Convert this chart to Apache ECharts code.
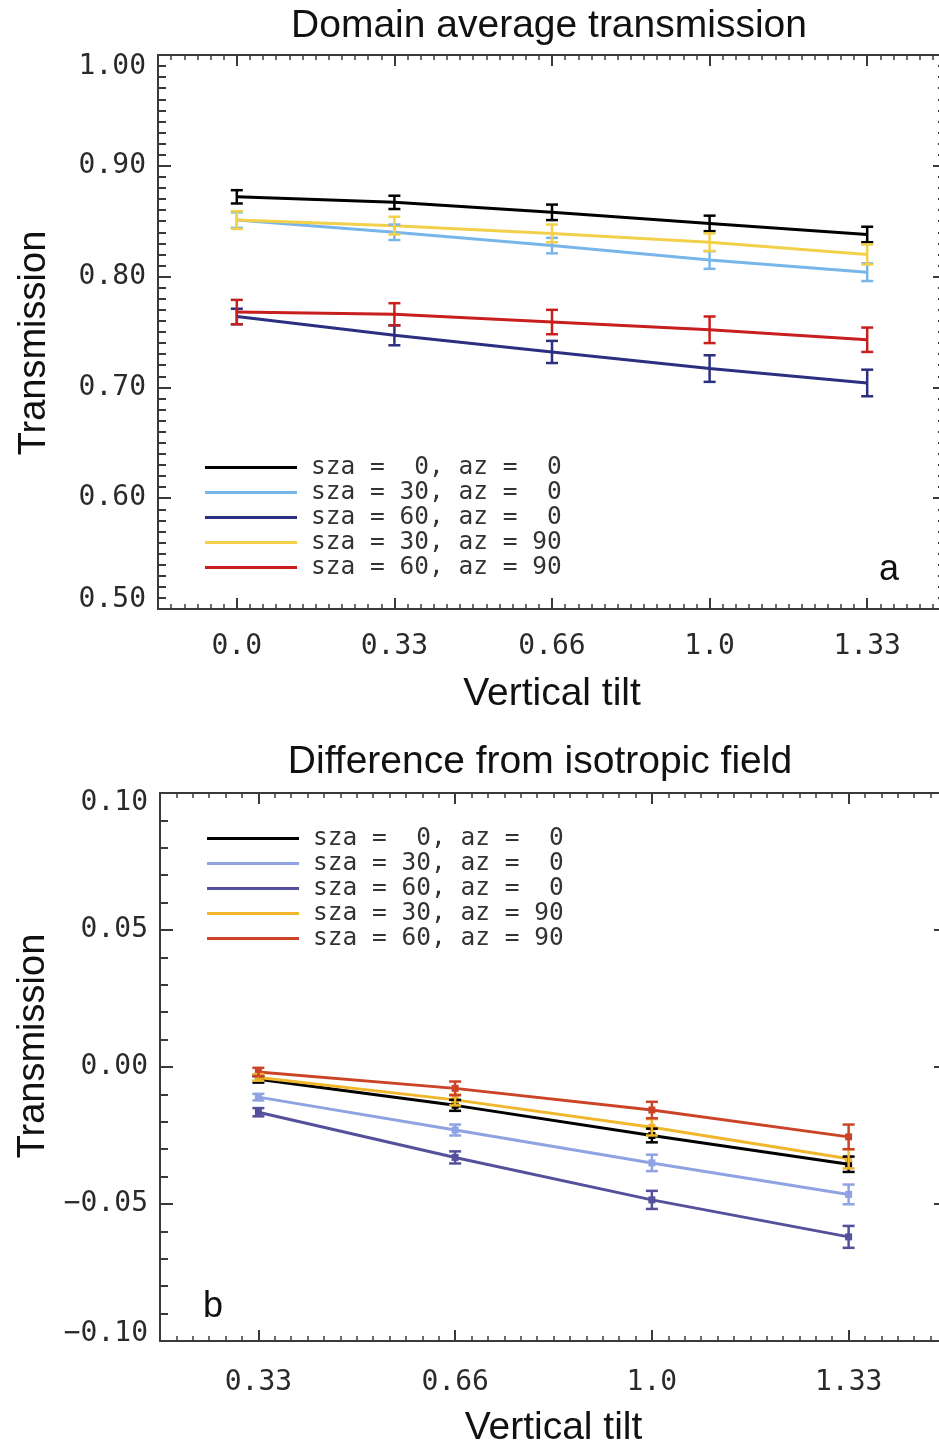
<!DOCTYPE html>
<html>
<head>
<meta charset="utf-8">
<script src="https://cdn.jsdelivr.net/npm/echarts@6/dist/echarts.min.js"></script>
<style>
html,body{margin:0;padding:0;background:#fff;}
#main{width:939px;height:1445px;}
</style>
</head>
<body>
<div id="main"></div>
<script>
// ---------- Data ----------
var seriesNames = ['sza =  0, az =  0', 'sza = 30, az =  0', 'sza = 60, az =  0', 'sza = 30, az = 90', 'sza = 60, az = 90'];

// Panel a: domain average transmission
var tiltLabelsA = ['0.0', '0.33', '0.66', '1.0', '1.33'];
var transA_s0a0   = [0.872, 0.867, 0.858, 0.848, 0.838];
var transA_s30a0  = [0.851, 0.840, 0.828, 0.815, 0.804];
var transA_s60a0  = [0.764, 0.747, 0.732, 0.717, 0.704];
var transA_s30a90 = [0.851, 0.846, 0.839, 0.831, 0.820];
var transA_s60a90 = [0.768, 0.766, 0.759, 0.752, 0.743];
var errA_s0a0   = [0.006, 0.006, 0.007, 0.007, 0.007];
var errA_s30a0  = [0.007, 0.007, 0.007, 0.008, 0.008];
var errA_s60a0  = [0.007, 0.009, 0.010, 0.012, 0.012];
var errA_s30a90 = [0.008, 0.008, 0.008, 0.008, 0.009];
var errA_s60a90 = [0.011, 0.010, 0.011, 0.012, 0.011];

// Panel b: difference from isotropic field
var tiltLabelsB = ['0.33', '0.66', '1.0', '1.33'];
var diffB_s0a0   = [-0.0045, -0.0140, -0.0250, -0.0355];
var diffB_s30a0  = [-0.0110, -0.0230, -0.0350, -0.0465];
var diffB_s60a0  = [-0.0165, -0.0330, -0.0485, -0.0620];
var diffB_s30a90 = [-0.0038, -0.0120, -0.0220, -0.0335];
var diffB_s60a90 = [-0.0018, -0.0078, -0.0157, -0.0255];
var errB_s0a0   = [0.0012, 0.0020, 0.0025, 0.0028];
var errB_s30a0  = [0.0012, 0.0020, 0.0030, 0.0036];
var errB_s60a0  = [0.0015, 0.0022, 0.0033, 0.0040];
var errB_s30a90 = [0.0012, 0.0020, 0.0030, 0.0035];
var errB_s60a90 = [0.0015, 0.0025, 0.0030, 0.0045];

// ---------- Styling ----------
var colorsA = ['#000000', '#78b6ea', '#2c2f80', '#f2d04a', '#c81e1e'];
var colorsB = ['#000000', '#8fa2e2', '#54509c', '#f0b62c', '#cc4428'];
var axisColor = '#3a3a3a';
var labelColor = '#2a2a2a';
var monoFont = '"DejaVu Sans Mono", monospace';
var sansFont = '"Liberation Sans", Arial, Helvetica, sans-serif';

var chart = echarts.init(document.getElementById('main'), null, {renderer: 'canvas'});

function errBarRender(color) {
  return function (params, api) {
    var x = api.value(0);
    var lo = api.coord([x, api.value(1)]);
    var hi = api.coord([x, api.value(2)]);
    var cap = 6;
    var st = {stroke: color, lineWidth: 2.5};
    return {
      type: 'group',
      children: [
        {type: 'line', shape: {x1: lo[0], y1: lo[1], x2: hi[0], y2: hi[1]}, style: st},
        {type: 'line', shape: {x1: lo[0] - cap, y1: lo[1], x2: lo[0] + cap, y2: lo[1]}, style: st},
        {type: 'line', shape: {x1: hi[0] - cap, y1: hi[1], x2: hi[0] + cap, y2: hi[1]}, style: st}
      ]
    };
  };
}

function errData(vals, errs) {
  return vals.map(function (v, i) { return [i, v - errs[i], v + errs[i]]; });
}

function yFmtFactory(min, max) {
  return function (v) {
    var s;
    if (Math.abs(v) < 1e-9) s = '0.00';
    else s = (v < 0 ? '\u2212' : '') + Math.abs(v).toFixed(2);
    if (Math.abs(v - max) < 1e-9) return '{dn|' + s + '}';
    if (Math.abs(v - min) < 1e-9) return '{up|' + s + '}';
    return s;
  };
}

function xAxesFor(gridIndex, cats, maxIdx, labelMargin, nameGap) {
  return [
    {type: 'category', gridIndex: gridIndex, data: cats, position: 'bottom', boundaryGap: true,
     axisLine: {show: true, onZero: false, lineStyle: {color: axisColor, width: 2}},
     axisTick: {show: true, inside: true, alignWithLabel: true, length: 11, lineStyle: {color: axisColor, width: 2}},
     axisLabel: {show: true, margin: labelMargin, color: labelColor, fontFamily: monoFont, fontSize: 28},
     splitLine: {show: false},
     name: 'Vertical tilt', nameLocation: 'middle', nameGap: nameGap,
     nameTextStyle: {fontFamily: sansFont, fontSize: 39, color: '#111'}},
    {type: 'value', gridIndex: gridIndex, position: 'bottom', min: -0.5, max: maxIdx, interval: 1 / 12,
     axisLine: {show: false, onZero: false}, axisLabel: {show: false}, splitLine: {show: false},
     axisTick: {show: true, inside: true, length: 5, lineStyle: {color: axisColor, width: 1.5}}},
    {type: 'category', gridIndex: gridIndex, data: cats, position: 'top', boundaryGap: true,
     axisLine: {show: true, onZero: false, lineStyle: {color: axisColor, width: 2}},
     axisTick: {show: true, inside: true, alignWithLabel: true, length: 11, lineStyle: {color: axisColor, width: 2}},
     axisLabel: {show: false}, splitLine: {show: false}},
    {type: 'value', gridIndex: gridIndex, position: 'top', min: -0.5, max: maxIdx, interval: 1 / 12,
     axisLine: {show: false, onZero: false}, axisLabel: {show: false}, splitLine: {show: false},
     axisTick: {show: true, inside: true, length: 5, lineStyle: {color: axisColor, width: 1.5}}}
  ];
}

function yAxesFor(gridIndex, min, max, interval, minorSplit, namePadding, dnPad, upPad) {
  return [
    {type: 'value', gridIndex: gridIndex, position: 'left', min: min, max: max, interval: interval,
     axisLine: {show: true, onZero: false, lineStyle: {color: axisColor, width: 2}},
     axisTick: {show: true, inside: true, length: 13, lineStyle: {color: axisColor, width: 2}},
     minorTick: {show: true, splitNumber: minorSplit, length: 8, lineStyle: {color: axisColor, width: 2}},
     axisLabel: {show: true, margin: 12, color: labelColor, fontFamily: monoFont, fontSize: 28,
       formatter: yFmtFactory(min, max),
       rich: {
         dn: {fontFamily: monoFont, fontSize: 28, color: labelColor, padding: [dnPad, 0, 0, 0]},
         up: {fontFamily: monoFont, fontSize: 28, color: labelColor, padding: [0, 0, upPad, 0]}
       }},
     splitLine: {show: false}, minorSplitLine: {show: false},
     name: 'Transmission', nameLocation: 'middle', nameRotate: 90, nameGap: 104,
     nameTextStyle: {fontFamily: sansFont, fontSize: 38, color: '#111', padding: namePadding}},
    {type: 'value', gridIndex: gridIndex, position: 'right', min: min, max: max, interval: interval,
     axisLine: {show: true, onZero: false, lineStyle: {color: axisColor, width: 2}},
     axisTick: {show: true, inside: true, length: 13, lineStyle: {color: axisColor, width: 2}},
     minorTick: {show: true, splitNumber: minorSplit, length: 8, lineStyle: {color: axisColor, width: 2}},
     axisLabel: {show: false}, splitLine: {show: false}, minorSplitLine: {show: false}}
  ];
}

var xAxes = xAxesFor(0, tiltLabelsA, 4.5, 24, 66).concat(xAxesFor(1, tiltLabelsB, 3.5, 28, 68));
var yAxes = yAxesFor(0, 0.5, 1.0, 0.1, 10, [0, 22, 0, 0], 24, 18)
  .concat(yAxesFor(1, -0.1, 0.1, 0.05, 5, [0, 0, 0, 42], 20, 14));

var valsA = [transA_s0a0, transA_s30a0, transA_s60a0, transA_s30a90, transA_s60a90];
var errsA = [errA_s0a0, errA_s30a0, errA_s60a0, errA_s30a90, errA_s60a90];
var valsB = [diffB_s0a0, diffB_s30a0, diffB_s60a0, diffB_s30a90, diffB_s60a90];
var errsB = [errB_s0a0, errB_s30a0, errB_s60a0, errB_s30a90, errB_s60a90];

var series = [];
seriesNames.forEach(function (nm, k) {
  series.push({type: 'line', name: nm, xAxisIndex: 0, yAxisIndex: 0, data: valsA[k],
    symbol: 'none', lineStyle: {color: colorsA[k], width: 3}, itemStyle: {color: colorsA[k]},
    silent: true, animation: false, z: 3});
  series.push({type: 'custom', name: 'errA' + k, xAxisIndex: 0, yAxisIndex: 0,
    data: errData(valsA[k], errsA[k]), encode: {x: 0, y: [1, 2]},
    renderItem: errBarRender(colorsA[k]), silent: true, animation: false, z: 4});
});
seriesNames.forEach(function (nm, k) {
  series.push({type: 'line', name: nm + ' ', xAxisIndex: 4, yAxisIndex: 2, data: valsB[k],
    symbol: 'rect', symbolSize: 7, lineStyle: {color: colorsB[k], width: 3}, itemStyle: {color: colorsB[k]},
    silent: true, animation: false, z: 3});
  series.push({type: 'custom', name: 'errB' + k, xAxisIndex: 4, yAxisIndex: 2,
    data: errData(valsB[k], errsB[k]), encode: {x: 0, y: [1, 2]},
    renderItem: errBarRender(colorsB[k]), silent: true, animation: false, z: 4});
});

function legendFor(names, colors, left, top, lh) {
  return {
    orient: 'vertical', left: left, top: top, itemGap: 0, padding: 0, selectedMode: false,
    itemWidth: 92, itemHeight: 3, icon: 'rect',
    data: names.map(function (n, i) { return {name: n, itemStyle: {color: colors[i]}}; }),
    textStyle: {fontFamily: monoFont, fontSize: 24.5, color: '#333', lineHeight: lh, padding: [0, 0, 0, 9]}
  };
}

var option = {
  backgroundColor: '#ffffff',
  animation: false,
  title: [
    {text: 'Domain average transmission', left: 544, top: 2, textAlign: 'center',
     textStyle: {fontFamily: sansFont, fontSize: 39, fontWeight: 'normal', color: '#111'}},
    {text: 'Difference from isotropic field', left: 535, top: 738, textAlign: 'center',
     textStyle: {fontFamily: sansFont, fontSize: 39, fontWeight: 'normal', color: '#111'}}
  ],
  grid: [
    {left: 158, top: 55, width: 788, height: 554, containLabel: false, outerBoundsMode: 'none'},
    {left: 160, top: 793, width: 787, height: 548, containLabel: false, outerBoundsMode: 'none'}
  ],
  legend: [
    legendFor(seriesNames, colorsA, 205, 455, 24.7),
    legendFor(seriesNames.map(function (n) { return n + ' '; }), colorsB, 207, 826, 24.3)
  ],
  xAxis: xAxes,
  yAxis: yAxes,
  graphic: [
    {type: 'text', left: 879, top: 552, style: {text: 'a', font: '36px ' + sansFont, fill: '#111'}},
    {type: 'text', left: 203, top: 1289, style: {text: 'b', font: '36px ' + sansFont, fill: '#111'}}
  ],
  series: series
};
chart.setOption(option);
</script>
</body>
</html>
